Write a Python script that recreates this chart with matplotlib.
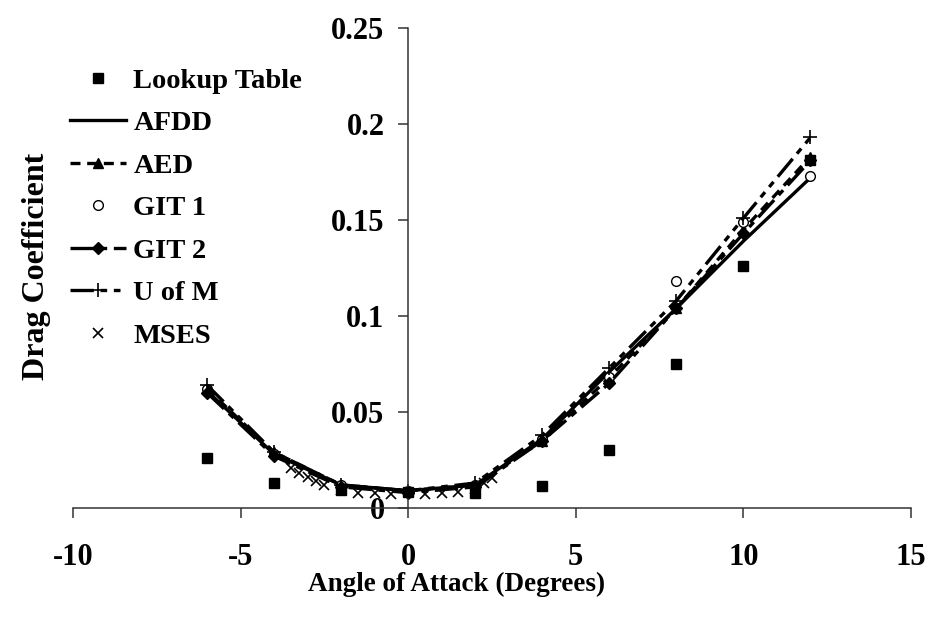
import matplotlib
matplotlib.use("Agg")
import matplotlib.pyplot as plt

# angle of attack (deg) and drag coefficient
alpha = [-6, -4, -2, 0, 2, 4, 6, 8, 10, 12]

lookup_cd = [0.026, 0.013, 0.0094, 0.0083, 0.0078, 0.0115, 0.030, 0.075, 0.126, 0.181]
afdd_cd = [0.061, 0.028, 0.012, 0.009, 0.012, 0.036, 0.071, 0.104, 0.139, 0.172]
aed_cd = [0.062, 0.029, 0.012, 0.009, 0.012, 0.035, 0.068, 0.104, 0.145, 0.183]
git1_cd = [0.062, 0.028, 0.012, 0.009, 0.012, 0.036, 0.068, 0.118, 0.149, 0.173]
git2_cd = [0.060, 0.027, 0.011, 0.008, 0.011, 0.035, 0.065, 0.104, 0.143, 0.181]
uofm_cd = [0.064, 0.029, 0.012, 0.009, 0.013, 0.038, 0.073, 0.108, 0.151, 0.193]

mses_alpha = [-3.5, -3.25, -3.0, -2.75, -2.5, -2.0, -1.5, -1.0, -0.5, 0.5, 1.0, 1.5, 2.0, 2.25, 2.5]
mses_cd = [0.021, 0.018, 0.016, 0.014, 0.012, 0.0095, 0.0080, 0.0076, 0.0075, 0.0075, 0.0077, 0.0082, 0.010, 0.013, 0.0155]

plt.rcParams['font.family'] = 'Liberation Serif'
plt.rcParams['font.weight'] = 'bold'
plt.rcParams['axes.unicode_minus'] = False

fig = plt.figure(figsize=(9.43, 6.21), dpi=100)
ax = fig.add_axes([73/943, 113/621, 838/943, 480/621])

lw = 2.4
ax.plot(alpha, lookup_cd, 's', color='black', markersize=7.5, label='Lookup Table', zorder=5)
ax.plot(alpha, afdd_cd, '-', color='black', linewidth=lw, label='AFDD')
ax.plot(alpha, aed_cd, color='black', linewidth=lw, dashes=(3, 2), marker='^', markersize=7, label='AED')
ax.plot(alpha, git1_cd, 'o', color='black', markerfacecolor='white', markersize=7, markeredgewidth=1.0, label='GIT 1')
ax.plot(alpha, git2_cd, color='black', linewidth=lw, dashes=(7, 2, 2, 2), marker='D', markersize=6, label='GIT 2')
ax.plot(alpha, uofm_cd, color='black', linewidth=lw, dashes=(7, 2, 2, 2, 2, 2), marker='+', markersize=10, markeredgewidth=1.2, label='U of M')
ax.plot(mses_alpha, mses_cd, 'x', color='black', markersize=7, markeredgewidth=1.2, label='MSES')

ax.set_xlim(-10, 15)
ax.set_ylim(0, 0.25)
ax.set_xticks([-10, -5, 0, 5, 10, 15])
ax.set_yticks([0, 0.05, 0.1, 0.15, 0.2, 0.25])
ax.set_yticklabels(['0', '0.05', '0.1', '0.15', '0.2', '0.25'])

ax.spines['top'].set_visible(False)
ax.spines['right'].set_visible(False)
ax.spines['left'].set_position(('data', 0))
for s in ['left', 'bottom']:
    ax.spines[s].set_color('#333333')
    ax.spines[s].set_linewidth(1.1)

ax.tick_params(axis='x', direction='out', length=7, width=1.1, color='#333333', pad=18, labelsize=22)
ax.tick_params(axis='y', direction='out', length=7, width=1.1, color='#333333', pad=10, labelsize=22)

ax.set_xlabel('Angle of Attack (Degrees)', fontsize=19.5, fontweight='bold')
ax.xaxis.set_label_coords(0.458, -0.132)
ax.set_ylabel('Drag Coefficient', fontsize=23, fontweight='bold')
ax.yaxis.set_label_coords(-0.026, 0.504)

ax.legend(loc='upper left', bbox_to_anchor=(70/943, 1 - 68/621), bbox_transform=fig.transFigure,
          frameon=False, fontsize=20.5, handlelength=1.95, handletextpad=0.28,
          labelspacing=0.58, borderpad=0, borderaxespad=0, numpoints=1)

fig.savefig('out.png', dpi=100)
